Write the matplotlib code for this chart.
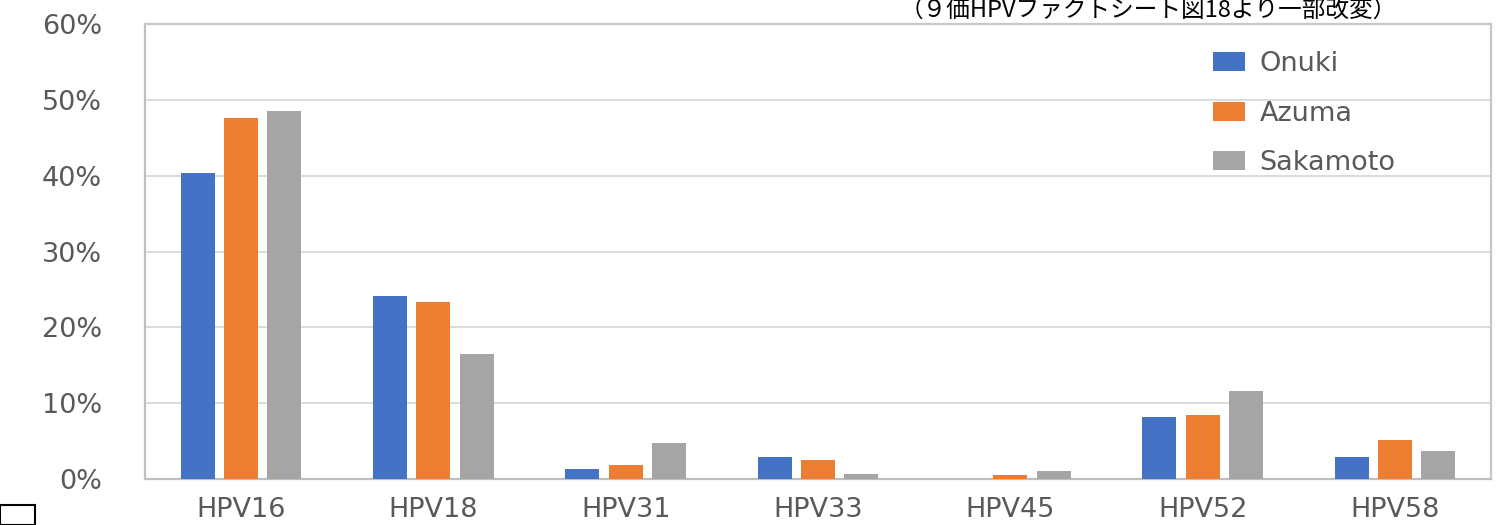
import matplotlib
matplotlib.use("Agg")
import matplotlib.pyplot as plt
import matplotlib.patches as mpatches
import numpy as np

categories = ["HPV16", "HPV18", "HPV31", "HPV33", "HPV45", "HPV52", "HPV58"]
onuki = [40.4, 24.1, 1.3, 2.9, 0.0, 8.2, 2.9]
azuma = [47.6, 23.4, 1.8, 2.5, 0.5, 8.5, 5.2]
sakamoto = [48.5, 16.5, 4.7, 0.7, 1.0, 11.6, 3.7]
series_names = ["Onuki", "Azuma", "Sakamoto"]
colors = ["#4472C4", "#ED7D31", "#A5A5A5"]
yticks = [0, 10, 20, 30, 40, 50, 60]
note = "（９価HPVファクトシート図18より一部改変）"

W, H = 1497, 525
fig = plt.figure(figsize=(W / 100, H / 100), dpi=100)
ax = fig.add_axes([145 / W, 1 - 479 / H, (1491 - 145) / W, (479 - 24) / H])

x = np.arange(len(categories))
width = 0.177
step = 0.225
for i, (vals, name, c) in enumerate(zip([onuki, azuma, sakamoto], series_names, colors)):
    ax.bar(x + (i - 1) * step, vals, width=width, color=c, label=name, zorder=3)

ax.set_xlim(-0.5, len(categories) - 0.5)
ax.set_ylim(0, 60)
ax.set_yticks(yticks)
ax.set_yticklabels([f"{v}%" for v in yticks])
ax.set_xticks(x)
ax.set_xticklabels(categories)
ax.tick_params(axis="both", length=0, colors="#595959", labelsize=19.5)
ax.tick_params(axis="y", pad=31)
ax.tick_params(axis="x", pad=13)
ax.yaxis.grid(True, color="#D9D9D9", linewidth=1.3, zorder=0)
for s in ["left", "bottom"]:
    ax.spines[s].set_color("#BFBFBF")
    ax.spines[s].set_linewidth(1.6)
for s in ["top", "right"]:
    ax.spines[s].set_color("#C8C8C8")
    ax.spines[s].set_linewidth(1.6)

leg = ax.legend(loc="upper left", bbox_to_anchor=(1189 / W, 1 - 27 / H),
                bbox_transform=fig.transFigure, frameon=False,
                fontsize=19.5, handlelength=1.15, handleheight=0.7,
                handletextpad=0.55, labelspacing=0.86)
for t in leg.get_texts():
    t.set_color("#595959")

fig.text(900 / W, 1 - 10 / H, note, ha="left", va="center", fontsize=17,
         family=["Noto Sans CJK JP", "DejaVu Sans"], color="black")

fig.patches.append(mpatches.Rectangle((0, 0), 35 / W, 20 / H, transform=fig.transFigure,
                                      fill=False, edgecolor="black", linewidth=1.5))

fig.savefig("out.png", dpi=100)
